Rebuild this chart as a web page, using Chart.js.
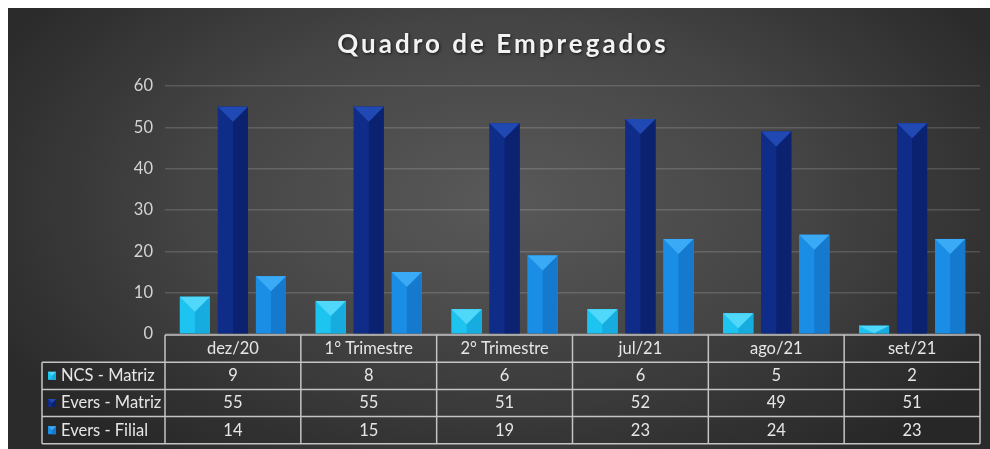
<!DOCTYPE html>
<html>
<head>
<meta charset="utf-8">
<script src="https://cdn.jsdelivr.net/npm/chart.js@4.4.1/dist/chart.umd.min.js"></script>
<style>
html,body{margin:0;padding:0;background:#fff;}
#wrap{width:990px;height:449px;}
</style>
</head>
<body>
<div id="wrap"><canvas id="c" width="990" height="449"></canvas></div>
<script>
const TITLE = 'Quadro de Empregados';
const categories = ['dez/20', '1° Trimestre', '2° Trimestre', 'jul/21', 'ago/21', 'set/21'];
const seriesNames = ['NCS - Matriz', 'Evers - Matriz', 'Evers - Filial'];
const ncsMatriz = [9, 8, 6, 6, 5, 2];
const eversMatriz = [55, 55, 51, 52, 49, 51];
const eversFilial = [14, 15, 19, 23, 24, 23];
const yTicks = [0, 10, 20, 30, 40, 50, 60];

const palette = [
  {base:'#1ec4f0', top:'#4fd8fa', right:'#17ace0'},
  {base:'#0f2d88', top:'#2149b4', right:'#0b2270'},
  {base:'#1a8ee4', top:'#3aa9f6', right:'#157ace'}
];
const FONT = 'Lato, "Open Sans", sans-serif';
const M = 8; // white margin

const bgPlugin = {
  id: 'bg',
  beforeDraw(chart) {
    const ctx = chart.ctx;
    ctx.save();
    ctx.fillStyle = '#ffffff';
    ctx.fillRect(0, 0, chart.width, chart.height);
    ctx.translate(500, 200);
    ctx.scale(1.7, 1);
    const g = ctx.createRadialGradient(0, 0, 0, 0, 0, 330);
    g.addColorStop(0, '#595959');
    g.addColorStop(0.55, '#444444');
    g.addColorStop(1, '#2b2b2b');
    ctx.fillStyle = g;
    ctx.fillRect((M - 500) / 1.7, M - 200, (chart.width - M) / 1.7 + 10, chart.height);
    ctx.restore();
    // title
    ctx.save();
    ctx.font = 'bold 26px ' + FONT;
    ctx.textAlign = 'center';
    ctx.textBaseline = 'middle';
    try { ctx.letterSpacing = '3px'; } catch (e) {}
    ctx.shadowColor = 'rgba(0,0,0,0.7)';
    ctx.shadowBlur = 3;
    ctx.shadowOffsetX = 1;
    ctx.shadowOffsetY = 1;
    ctx.fillStyle = '#f2f2f2';
    ctx.fillText(TITLE, (M + chart.width) / 2 + 4, 45);
    ctx.restore();
  }
};

function bevel(ctx, l, t, r, b, p) {
  const w = r - l;
  const cx = (l + r) / 2;
  const h = b - t;
  const d = Math.min(w / 2, h);
  ctx.fillStyle = p.base;
  ctx.fillRect(l, t, w, h);
  // right face darker
  ctx.fillStyle = p.right;
  ctx.beginPath();
  ctx.moveTo(r, t); ctx.lineTo(cx, t + d); ctx.lineTo(cx, b); ctx.lineTo(r, b);
  ctx.closePath(); ctx.fill();
  // top light triangle
  ctx.fillStyle = p.top;
  ctx.beginPath();
  ctx.moveTo(l, t); ctx.lineTo(r, t); ctx.lineTo(cx, t + d);
  ctx.closePath(); ctx.fill();
}

const bevelPlugin = {
  id: 'bevel',
  afterDatasetsDraw(chart) {
    const ctx = chart.ctx;
    ctx.save();
    chart.data.datasets.forEach((ds, i) => {
      const meta = chart.getDatasetMeta(i);
      meta.data.forEach(bar => {
        const p = bar.getProps(['x', 'y', 'base', 'width'], true);
        bevel(ctx, p.x - p.width / 2, p.y, p.x + p.width / 2, p.base, palette[i]);
      });
    });
    ctx.restore();
  }
};

const tablePlugin = {
  id: 'table',
  afterDraw(chart) {
    const ctx = chart.ctx;
    const xs = chart.scales.x;
    const area = chart.chartArea;
    const colW = (area.right - area.left) / categories.length;
    const rowTop = area.bottom + 1;
    const rowH = 27.2;
    const leftX = 42;
    const series = [ncsMatriz, eversMatriz, eversFilial];
    ctx.save();
    ctx.fillStyle = 'rgba(0,0,0,0.08)';
    ctx.fillRect(area.left, rowTop, area.right - area.left, rowH);
    ctx.fillRect(leftX, rowTop + rowH, area.right - leftX, rowH * 3);
    ctx.strokeStyle = '#c4c4c4';
    ctx.lineWidth = 1.5;
    ctx.beginPath();
    ctx.moveTo(area.left, rowTop); ctx.lineTo(area.right, rowTop);
    for (let r = 1; r <= 4; r++) {
      ctx.moveTo(leftX, rowTop + rowH * r); ctx.lineTo(area.right, rowTop + rowH * r);
    }
    ctx.moveTo(leftX, rowTop + rowH); ctx.lineTo(leftX, rowTop + rowH * 4);
    for (let c = 0; c <= categories.length; c++) {
      const x = c < categories.length ? xs.getPixelForValue(c) - colW / 2 : area.right;
      ctx.moveTo(x, rowTop); ctx.lineTo(x, rowTop + rowH * 4);
    }
    ctx.stroke();
    ctx.font = '16.5px ' + FONT;
    ctx.fillStyle = '#e6e6e6';
    ctx.textBaseline = 'middle';
    ctx.textAlign = 'center';
    categories.forEach((c, i) => {
      ctx.fillText(c, xs.getPixelForValue(i), rowTop + rowH / 2);
    });
    series.forEach((vals, r) => {
      const cy = rowTop + rowH * (r + 1) + rowH / 2;
      vals.forEach((v, i) => {
        ctx.textAlign = 'center';
        ctx.fillStyle = '#e6e6e6';
        ctx.fillText(String(v), xs.getPixelForValue(i), cy);
      });
      bevel(ctx, 48, cy - 4, 56, cy + 4, palette[r]);
      ctx.textAlign = 'left';
      ctx.fillStyle = '#e6e6e6';
      ctx.fillText(seriesNames[r], 61, cy);
    });
    ctx.restore();
  }
};

new Chart(document.getElementById('c'), {
  type: 'bar',
  data: {
    labels: categories,
    datasets: [
      {label: seriesNames[0], data: ncsMatriz, backgroundColor: palette[0].base},
      {label: seriesNames[1], data: eversMatriz, backgroundColor: palette[1].base},
      {label: seriesNames[2], data: eversFilial, backgroundColor: palette[2].base}
    ]
  },
  options: {
    responsive: false,
    animation: false,
    layout: {padding: {top: 86, left: M, right: 10, bottom: 115}},
    datasets: {bar: {categoryPercentage: 0.84, barPercentage: 0.79}},
    plugins: {legend: {display: false}, title: {display: false}, tooltip: {enabled: false}},
    scales: {
      x: {display: false},
      y: {
        min: yTicks[0], max: yTicks[yTicks.length - 1],
        afterBuildTicks(scale) { scale.ticks = yTicks.map(v => ({value: v})); },
        afterFit(scale) { scale.width = 157; },
        border: {display: false},
        grid: {color: 'rgba(255,255,255,0.15)', lineWidth: 1.5, drawTicks: false},
        ticks: {color: '#d4d4d4', font: {size: 16.5, family: FONT}, padding: 12}
      }
    }
  },
  plugins: [bgPlugin, bevelPlugin, tablePlugin]
});
</script>
</body>
</html>
